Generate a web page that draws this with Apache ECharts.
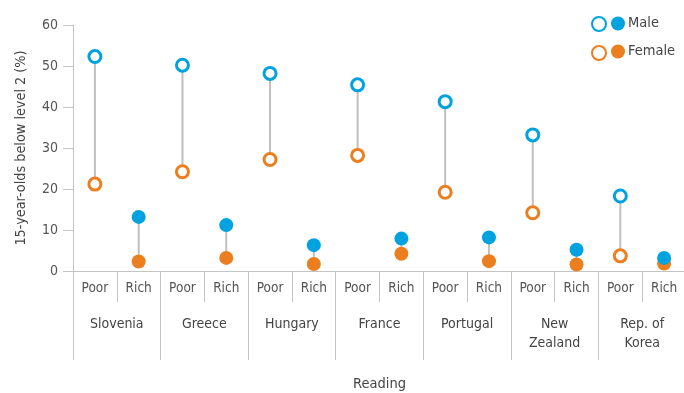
<!DOCTYPE html>
<html>
<head>
<meta charset="utf-8">
<script src="https://cdn.jsdelivr.net/npm/echarts@6/dist/echarts.min.js"></script>
<style>
html,body{margin:0;padding:0;background:#fff;}
#chart{width:684px;height:393px;}
</style>
</head>
<body>
<div id="chart"></div>
<script>
// ---- data ----
var countries = ['Slovenia', 'Greece', 'Hungary', 'France', 'Portugal', 'New\nZealand', 'Rep. of\nKorea'];
var groups = ['Poor', 'Rich'];
var male = [52.3, 13.2, 50.2, 11.2, 48.2, 6.3, 45.4, 7.9, 41.3, 8.2, 33.2, 5.2, 18.3, 3.2];
var female = [21.2, 2.3, 24.2, 3.2, 27.2, 1.7, 28.2, 4.2, 19.2, 2.4, 14.2, 1.6, 3.7, 1.8];
var yTicks = [0, 10, 20, 30, 40, 50, 60];
var yName = '15-year-olds below level 2 (%)';
var xName = 'Reading';

// ---- build ----
var FONT = '"Liberation Sans Narrow","DejaVu Sans Condensed","Roboto",sans-serif';
var BLUE = '#00a3e0', ORANGE = '#eb7f1f', GRAY = '#c2bfbc', AXIS = '#c4c4c4', TXT = '#555';

var subCats = [];
countries.forEach(function () { groups.forEach(function (g) { subCats.push(g); }); });

function pick(arr, parity) {
  return arr.map(function (v, i) { return i % 2 === parity ? [i, v] : null; })
            .filter(function (d) { return d; });
}

var chart = echarts.init(document.getElementById('chart'));
chart.setOption({
  animation: false,
  textStyle: { fontFamily: FONT },
  grid: { left: 73, top: 25, width: 613, bottom: 122, containLabel: false, outerBoundsMode: 'none' },
  legend: [
    {
      data: ['Male (poor)', 'Female (poor)'],
      orient: 'vertical', left: 586, top: 11, itemGap: 13,
      itemWidth: 14, itemHeight: 14,
      formatter: function () { return ''; },
      selectedMode: false
    },
    {
      data: ['Male', 'Female'],
      orient: 'vertical', left: 606, top: 11, itemGap: 13,
      itemWidth: 14, itemHeight: 14,
      textStyle: { fontFamily: FONT, fontSize: 14.5, color: '#444', padding: [0, 0, 0, -2] },
      selectedMode: false
    }
  ],
  xAxis: [
    {
      type: 'category', data: subCats, position: 'bottom',
      axisLine: { show: true, lineStyle: { color: AXIS, width: 1 } },
      axisTick: { show: true, length: 31, lineStyle: { color: AXIS } },
      axisLabel: { color: TXT, fontSize: 13.5, fontFamily: FONT, margin: 10, interval: 0 }
    },
    {
      type: 'category', data: countries, position: 'bottom',
      name: xName, nameLocation: 'middle', nameGap: 106,
      nameTextStyle: { color: '#444', fontSize: 14.5, fontFamily: FONT },
      axisLine: { show: true, lineStyle: { color: AXIS, width: 1 } },
      axisTick: { show: true, length: 89, lineStyle: { color: AXIS } },
      axisLabel: { color: '#444', fontSize: 14, fontFamily: FONT, margin: 44, interval: 0, lineHeight: 19 }
    }
  ],
  yAxis: {
    type: 'value', min: 0, max: 60, interval: 10,
    name: yName, nameLocation: 'middle', nameGap: 45, nameRotate: 90,
    nameTextStyle: { color: '#444', fontSize: 14.3, fontFamily: FONT },
    axisLine: { show: true, lineStyle: { color: AXIS } },
    axisTick: { show: true, length: 10, lineStyle: { color: AXIS } },
    splitLine: { show: false },
    axisLabel: {
      color: TXT, fontSize: 14, fontFamily: FONT, margin: 15,
      customValues: yTicks
    }
  },
  series: [
    {
      type: 'custom', name: 'connector', xAxisIndex: 0, z: 1,
      data: male.map(function (m, i) { return [i, m, female[i]]; }),
      renderItem: function (params, api) {
        var a = api.coord([api.value(0), api.value(1)]);
        var b = api.coord([api.value(0), api.value(2)]);
        return { type: 'line', shape: { x1: a[0], y1: a[1], x2: b[0], y2: b[1] },
                 style: { stroke: GRAY, lineWidth: 2 } };
      }
    },
    {
      type: 'scatter', name: 'Female (poor)', xAxisIndex: 0, z: 3,
      data: pick(female, 0), symbol: 'circle', symbolSize: 12,
      itemStyle: { color: '#fff', borderColor: ORANGE, borderWidth: 3, opacity: 1 }
    },
    {
      type: 'scatter', name: 'Female', xAxisIndex: 0, z: 3,
      data: pick(female, 1), symbol: 'circle', symbolSize: 14,
      itemStyle: { color: ORANGE, opacity: 1 }
    },
    {
      type: 'scatter', name: 'Male (poor)', xAxisIndex: 0, z: 4,
      data: pick(male, 0), symbol: 'circle', symbolSize: 12,
      itemStyle: { color: '#fff', borderColor: BLUE, borderWidth: 3, opacity: 1 }
    },
    {
      type: 'scatter', name: 'Male', xAxisIndex: 0, z: 4,
      data: pick(male, 1), symbol: 'circle', symbolSize: 14,
      itemStyle: { color: BLUE, opacity: 1 }
    }
  ]
});
</script>
</body>
</html>
